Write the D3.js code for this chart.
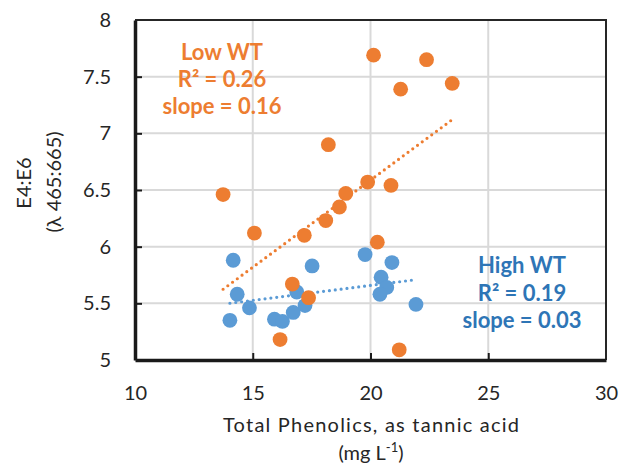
<!DOCTYPE html>
<html>
<head>
<meta charset="utf-8">
<script src="https://cdn.jsdelivr.net/npm/d3@7"></script>
<style>
  body { margin: 0; background: #fff; }
  text { font-family: Lato, "Open Sans", sans-serif; }
  .tick text { font-size: 20px; fill: #262626; }
  .axistitle { font-size: 20px; fill: #262626; }
  .note { font-size: 22px; font-weight: bold; }
</style>
</head>
<body>
<div id="chart"></div>
<script>

// Data.
const lowX  = [13.74, 15.07, 16.16, 16.68, 17.19, 17.37, 18.21, 18.10, 18.68, 18.95, 19.88, 20.87, 20.29, 21.22, 20.13, 22.38, 21.28, 23.47];
const lowY  = [6.46, 6.12, 5.18, 5.67, 6.10, 5.55, 6.90, 6.23, 6.35, 6.47, 6.57, 6.54, 6.04, 5.09, 7.69, 7.65, 7.39, 7.44];
const highX = [14.17, 14.34, 14.86, 14.03, 15.92, 16.26, 16.72, 17.22, 16.87, 17.52, 19.77, 20.91, 20.45, 20.69, 20.40, 21.93];
const highY = [5.88, 5.58, 5.46, 5.35, 5.36, 5.34, 5.42, 5.48, 5.60, 5.83, 5.93, 5.86, 5.73, 5.64, 5.58, 5.49];

const xTicks = [10, 15, 20, 25, 30];
const yTicks = [5, 5.5, 6, 6.5, 7, 7.5, 8];

const lowNote  = ["Low WT", "R\u00b2 = 0.26", "slope = 0.16"];
const highNote = ["High WT", "R\u00b2 = 0.19", "slope = 0.03"];

const ORANGE = "#ED7D31", BLUE = "#5B9BD5", BLUE_TXT = "#2E75B6";


// Dimensions of chart.
let margin = { top: 20, right: 14, bottom: 104, left: 135 },
    width = 620 - margin.left - margin.right,
    height = 464 - margin.top - margin.bottom;

let svg = d3.select("#chart").append("svg")
    .attr("width", 620)
    .attr("height", 464);

let g = svg.append("g")
    .attr("transform", "translate(" + margin.left + "," + margin.top + ")");


// Scales
let x = d3.scaleLinear().domain([10, 30]).range([0, width]);
let y = d3.scaleLinear().domain([5, 8]).range([height, 0]);


// Gridlines
g.append("g").selectAll("line")
    .data(xTicks.slice(1, -1))
    .join("line")
    .attr("x1", d => x(d)).attr("x2", d => x(d))
    .attr("y1", 0).attr("y2", height)
    .attr("stroke", "#D9D9D9").attr("stroke-width", 2);
g.append("g").selectAll("line")
    .data(yTicks.slice(1, -1))
    .join("line")
    .attr("x1", 0).attr("x2", width)
    .attr("y1", d => y(d)).attr("y2", d => y(d))
    .attr("stroke", "#D9D9D9").attr("stroke-width", 2);

// Top and right border
g.append("path")
    .attr("d", "M0,0H" + width + "V" + height)
    .attr("fill", "none")
    .attr("stroke", "#262626")
    .attr("stroke-width", 2);


// Trend lines (least squares)
function fit(xs, ys) {
    const mx = d3.mean(xs), my = d3.mean(ys);
    let sxy = 0, sxx = 0;
    xs.forEach((v, i) => { sxy += (v - mx) * (ys[i] - my); sxx += (v - mx) * (v - mx); });
    const b = sxy / sxx, a = my - b * mx;
    const x0 = d3.min(xs), x1 = d3.max(xs);
    return [[x0, a + b * x0], [x1, a + b * x1]];
}
const line = d3.line().x(d => x(d[0])).y(d => y(d[1]));

[[highX, highY, BLUE], [lowX, lowY, ORANGE]].forEach(s => {
    g.append("path")
        .attr("d", line(fit(s[0], s[1])))
        .attr("fill", "none")
        .attr("stroke", s[2])
        .attr("stroke-width", 3.2)
        .attr("stroke-linecap", "round")
        .attr("stroke-dasharray", "0 5.9");
});


// Points
g.append("g").selectAll("circle")
    .data(d3.zip(highX, highY))
    .join("circle")
    .attr("cx", d => x(d[0]))
    .attr("cy", d => y(d[1]))
    .attr("r", 7.4)
    .attr("fill", BLUE);
g.append("g").selectAll("circle")
    .data(d3.zip(lowX, lowY))
    .join("circle")
    .attr("cx", d => x(d[0]))
    .attr("cy", d => y(d[1]))
    .attr("r", 7.4)
    .attr("fill", ORANGE);


// Axes
let xAxis = d3.axisBottom(x).tickValues(xTicks).tickSize(-7).tickPadding(26).tickSizeOuter(0);
let yAxis = d3.axisLeft(y).tickValues(yTicks).tickSize(-7).tickPadding(24).tickSizeOuter(0)
    .tickFormat(d3.format("~g"));

let xAxisEl = g.append("g")
    .attr("transform", "translate(0," + height + ")")
    .call(xAxis);
let yAxisEl = g.append("g").call(yAxis);

[xAxisEl, yAxisEl].forEach(a => {
    a.select(".domain").attr("stroke", "#1a1a1a").attr("stroke-width", 3.5);
    a.selectAll(".tick line").attr("stroke", "#1a1a1a").attr("stroke-width", 2);
    a.selectAll(".tick text").attr("font-family", null).attr("font-size", null);
});
xAxisEl.selectAll(".tick line").filter(d => d === 10 || d === 30).remove();
yAxisEl.selectAll(".tick line").filter(d => d === 5 || d === 8).remove();


// Axis titles
svg.append("text")
    .attr("class", "axistitle")
    .attr("text-anchor", "middle")
    .attr("x", 371).attr("y", 432)
    .attr("textLength", 296)
    .attr("lengthAdjust", "spacing")
    .text("Total Phenolics, as tannic acid");
let xt2 = svg.append("text")
    .attr("class", "axistitle")
    .attr("text-anchor", "middle")
    .attr("x", 371).attr("y", 460);
xt2.append("tspan").text("(mg L");
xt2.append("tspan").attr("dy", -8).attr("font-size", "13px").text("-1");
xt2.append("tspan").attr("dy", 8).text(")");

svg.append("text")
    .attr("class", "axistitle")
    .attr("text-anchor", "middle")
    .attr("transform", "translate(31,183) rotate(-90)")
    .text("E4:E6");
svg.append("text")
    .attr("class", "axistitle")
    .attr("text-anchor", "middle")
    .attr("transform", "translate(61,182) rotate(-90)")
    .text("(\u03bb 465:665)");


// Annotations
svg.append("g").selectAll("text")
    .data(lowNote)
    .join("text")
    .attr("class", "note")
    .attr("fill", ORANGE)
    .attr("text-anchor", "middle")
    .attr("x", 222)
    .attr("y", (d, i) => 60 + i * 27)
    .text(d => d);
svg.append("g").selectAll("text")
    .data(highNote)
    .join("text")
    .attr("class", "note")
    .attr("fill", BLUE_TXT)
    .attr("text-anchor", "middle")
    .attr("x", 522)
    .attr("y", (d, i) => 273 + i * 27.5)
    .text(d => d);

</script>
</body>
</html>
